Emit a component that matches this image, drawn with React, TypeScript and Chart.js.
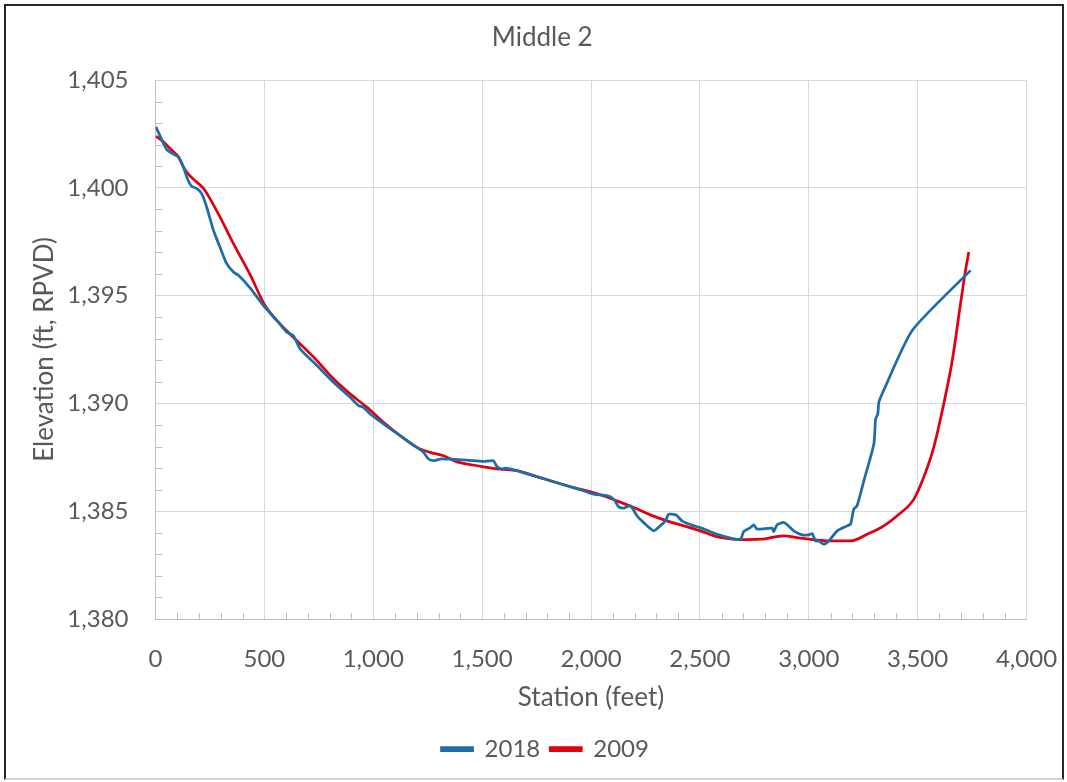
import React, { useEffect, useRef } from 'react';
import { Chart, registerables } from 'chart.js';

Chart.register(...registerables);

const station2018 = [2, 51, 82, 105, 128, 146, 166, 189, 212, 235, 266, 296, 327, 358, 381, 434, 503, 557, 603, 633, 664, 741, 817, 894, 932, 955, 986, 1047, 1124, 1200, 1231, 1254, 1277, 1307, 1353, 1430, 1506, 1552, 1568, 1591, 1606, 1660, 1736, 1813, 1890, 1966, 2012, 2074, 2104, 2127, 2150, 2181, 2211, 2242, 2288, 2318, 2341, 2357, 2380, 2395, 2418, 2472, 2502, 2579, 2655, 2686, 2694, 2701, 2732, 2747, 2763, 2832, 2839, 2855, 2885, 2901, 2931, 2970, 3000, 3016, 3031, 3046, 3069, 3092, 3131, 3176, 3192, 3207, 3222, 3253, 3299, 3307, 3317, 3322, 3337, 3475, 3743];
const elev2018 = [1402.83, 1401.78, 1401.56, 1401.44, 1400.97, 1400.43, 1400.07, 1399.97, 1399.73, 1399.11, 1398.03, 1397.25, 1396.48, 1396.09, 1395.94, 1395.36, 1394.45, 1393.85, 1393.3, 1393.15, 1392.53, 1391.76, 1390.98, 1390.28, 1389.9, 1389.82, 1389.51, 1389.05, 1388.5, 1387.96, 1387.73, 1387.42, 1387.34, 1387.42, 1387.41, 1387.37, 1387.31, 1387.34, 1387.07, 1386.95, 1387.0, 1386.88, 1386.65, 1386.41, 1386.18, 1385.95, 1385.79, 1385.72, 1385.56, 1385.2, 1385.14, 1385.25, 1384.79, 1384.47, 1384.09, 1384.32, 1384.55, 1384.86, 1384.85, 1384.79, 1384.55, 1384.32, 1384.24, 1383.93, 1383.72, 1383.7, 1383.85, 1384.06, 1384.24, 1384.37, 1384.17, 1384.21, 1384.06, 1384.37, 1384.48, 1384.37, 1384.09, 1383.9, 1383.9, 1383.96, 1383.62, 1383.62, 1383.47, 1383.62, 1384.09, 1384.32, 1384.4, 1385.1, 1385.25, 1386.41, 1388.12, 1389.28, 1389.51, 1390.05, 1390.44, 1393.38, 1396.17];

const station2009 = [2, 36, 74, 105, 128, 151, 189, 220, 250, 296, 358, 434, 503, 557, 633, 741, 817, 894, 971, 1047, 1124, 1200, 1261, 1323, 1384, 1430, 1506, 1583, 1660, 1736, 1890, 2043, 2119, 2196, 2272, 2349, 2426, 2502, 2579, 2655, 2686, 2778, 2885, 2962, 3039, 3115, 3192, 3268, 3345, 3406, 3483, 3528, 3574, 3620, 3659, 3697, 3720, 3735];
const elev2009 = [1402.4, 1402.13, 1401.75, 1401.44, 1400.97, 1400.63, 1400.27, 1399.97, 1399.5, 1398.65, 1397.41, 1395.98, 1394.54, 1393.85, 1393.07, 1391.99, 1391.14, 1390.44, 1389.82, 1389.12, 1388.5, 1387.96, 1387.73, 1387.57, 1387.29, 1387.19, 1387.06, 1386.95, 1386.88, 1386.65, 1386.18, 1385.76, 1385.48, 1385.17, 1384.83, 1384.55, 1384.32, 1384.09, 1383.82, 1383.7, 1383.68, 1383.7, 1383.86, 1383.75, 1383.66, 1383.62, 1383.62, 1383.93, 1384.32, 1384.79, 1385.56, 1386.57, 1387.96, 1389.98, 1391.99, 1394.62, 1396.17, 1397.02];

const seriesNames = ['2018', '2009'];
const xMin = 0, xMax = 4000, xStep = 500, xMinorStep = 100;
const yMin = 1380, yMax = 1405, yStep = 5, yMinorStep = 1;

const TEXT = '#595959';
const FONT = 'Lato, "Open Sans", sans-serif';
const BLUE = '#1d6ea8';
const RED = '#e0000f';

const fmt = (v: number) => Number(v).toLocaleString('en-US');

const minorTicks = {
  id: 'minorTicks',
  beforeDatasetsDraw(chart: any) {
    const { ctx, chartArea, scales } = chart;
    const x = scales.x, y = scales.y;
    ctx.save();
    ctx.strokeStyle = '#bfbfbf';
    ctx.lineWidth = 1;
    ctx.beginPath();
    for (let v = xMin + xMinorStep; v < xMax; v += xMinorStep) {
      if (v % xStep === 0) continue;
      const px = Math.round(x.getPixelForValue(v)) + 0.5;
      ctx.moveTo(px, chartArea.bottom);
      ctx.lineTo(px, chartArea.bottom - 6);
    }
    for (let v = yMin + yMinorStep; v < yMax; v += yMinorStep) {
      if (v % yStep === 0) continue;
      const py = Math.round(y.getPixelForValue(v)) + 0.5;
      ctx.moveTo(chartArea.left, py);
      ctx.lineTo(chartArea.left + 7, py);
    }
    ctx.stroke();
    ctx.restore();
  },
};

const shiftBoxes = {
  id: 'shiftBoxes',
  afterLayout(chart: any) {
    const t = chart.titleBlock;
    if (t) { t.left += 29; t.right += 29; }
    const l = chart.legend;
    if (l) { l.left += 32; l.right += 32; }
  },
};

export default function App() {
  const ref = useRef<HTMLCanvasElement | null>(null);
  useEffect(() => {
    if (!ref.current) return;
    const chart = new Chart(ref.current, {
      type: 'line',
      data: {
        datasets: [
          {
            label: seriesNames[0],
            data: station2018.map((s, i) => ({ x: s, y: elev2018[i] })),
            borderColor: BLUE,
            backgroundColor: BLUE,
            borderWidth: 2.75,
            pointRadius: 0,
            tension: 0.2,
          },
          {
            label: seriesNames[1],
            data: station2009.map((s, i) => ({ x: s, y: elev2009[i] })),
            borderColor: RED,
            backgroundColor: RED,
            borderWidth: 2.75,
            pointRadius: 0,
            tension: 0.4,
            cubicInterpolationMode: 'monotone',
          },
        ],
      },
      options: {
        animation: false,
        responsive: false,
        layout: { padding: { left: 0, right: 40.5, top: 0, bottom: 11 } },
        plugins: {
          title: {
            display: true,
            text: 'Middle 2',
            color: TEXT,
            font: { family: FONT, size: 26, weight: 'normal' },
            padding: { top: 22.4, bottom: 26.4 },
          },
          legend: {
            position: 'bottom',
            labels: {
              color: TEXT,
              font: { family: FONT, size: 24 },
              boxWidth: 31,
              boxHeight: 3,
              padding: 10,
            },
          },
          tooltip: { enabled: false },
        },
        scales: {
          x: {
            type: 'linear',
            min: xMin,
            max: xMax,
            ticks: {
              stepSize: xStep,
              color: TEXT,
              font: { family: FONT, size: 24 },
              padding: 25.6,
              maxRotation: 0,
              callback: (v: any) => fmt(v),
            },
            grid: { color: '#d9d9d9', drawTicks: false, lineWidth: 1 },
            border: { color: '#bfbfbf' },
            title: {
              display: true,
              text: 'Station (feet)',
              color: TEXT,
              font: { family: FONT, size: 26 },
              padding: { top: 0, bottom: 13.4 },
            },
            afterFit: (s: any) => { s.height = 108; s.paddingRight = 0; s.paddingLeft = 0; },
          },
          y: {
            type: 'linear',
            min: yMin,
            max: yMax,
            ticks: {
              stepSize: yStep,
              color: TEXT,
              font: { family: FONT, size: 24 },
              padding: 27,
              callback: (v: any) => fmt(v),
            },
            grid: { color: '#d9d9d9', drawTicks: false, lineWidth: 1 },
            border: { color: '#bfbfbf' },
            title: {
              display: true,
              text: 'Elevation (ft, RPVD)',
              color: TEXT,
              font: { family: FONT, size: 26 },
              padding: { top: 29.4, bottom: 0 },
            },
            afterFit: (s: any) => { s.width = 155.5; s.paddingTop = 0; s.paddingBottom = 0; },
          },
        },
      } as any,
      plugins: [minorTicks, shiftBoxes],
    });
    return () => chart.destroy();
  }, []);

  return (
    <div style={{ position: 'fixed', left: 0, top: 0, width: 1067, height: 782, background: '#fff' }}>
      <canvas ref={ref} width={1067} height={782} style={{ position: 'absolute', left: 0, top: 0, width: 1067, height: 782 }} />
      <div
        style={{
          position: 'absolute',
          left: 4,
          top: 4,
          width: 1060,
          height: 776,
          boxSizing: 'border-box',
          borderTop: '2px solid #262626',
          borderLeft: '2px solid #262626',
          borderRight: '2px solid #262626',
          borderBottom: '2px solid #d0d0d0',
          pointerEvents: 'none',
        }}
      />
    </div>
  );
}
